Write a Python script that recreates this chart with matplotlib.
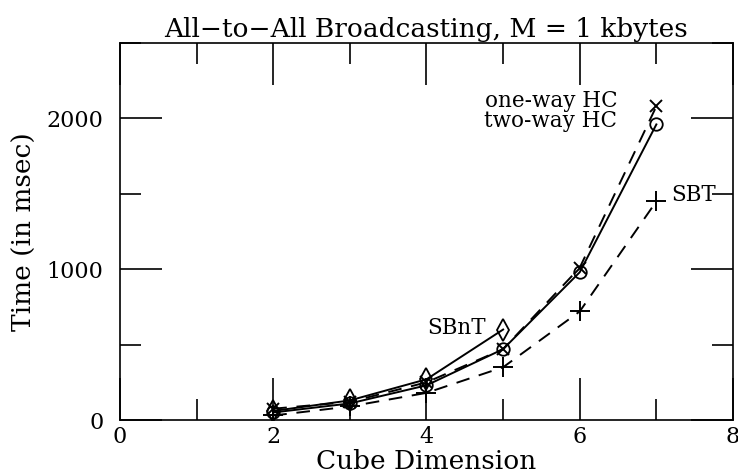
import matplotlib
matplotlib.use("Agg")
import matplotlib.pyplot as plt
from matplotlib.ticker import MultipleLocator

# values
cube_dim = [2, 3, 4, 5, 6, 7]
one_way_hc = [75, 120, 250, 470, 1010, 2080]
two_way_hc = [50, 110, 230, 470, 980, 1960]
sbt = [30, 90, 180, 350, 720, 1450]
sbnt_dim = [2, 3, 4, 5]
sbnt = [60, 130, 270, 600]

plt.rcParams["font.family"] = "DejaVu Serif"

fig = plt.figure(figsize=(7.38, 4.76), dpi=100)
ax = fig.add_axes([0.1626, 0.1176, 0.8306, 0.7921])

dash = (0, (7, 5))
ax.plot(cube_dim, one_way_hc, color="black", lw=1.4, ls=dash,
        marker="x", ms=9, mew=1.4)
ax.plot(cube_dim, two_way_hc, color="black", lw=1.4, ls="-",
        marker="o", ms=9, mfc="none", mew=1.3)
ax.plot(cube_dim, sbt, color="black", lw=1.4, ls=dash,
        marker="+", ms=14, mew=1.4)
ax.plot(sbnt_dim, sbnt, color="black", lw=1.4, ls="-",
        marker="d", ms=11, mfc="none", mew=1.3)

ax.text(6.49, 2118, "one-way HC", ha="right", va="center", fontsize=15.5)
ax.text(6.49, 1985, "two-way HC", ha="right", va="center", fontsize=15.5)
ax.text(7.2, 1493, "SBT", ha="left", va="center", fontsize=15.5)
ax.text(4.77, 613, "SBnT", ha="right", va="center", fontsize=15.5)

ax.set_xlim(0, 8)
ax.set_ylim(0, 2500)
ax.xaxis.set_major_locator(MultipleLocator(2))
ax.xaxis.set_minor_locator(MultipleLocator(1))
ax.yaxis.set_major_locator(MultipleLocator(1000))
ax.yaxis.set_minor_locator(MultipleLocator(500))
ax.tick_params(which="both", direction="in", top=True, right=True,
               width=1.2, labelsize=16)
ax.tick_params(axis="x", pad=4)
ax.tick_params(axis="y", pad=12)
ax.tick_params(which="major", length=30)
ax.tick_params(which="minor", length=15)
for s in ax.spines.values():
    s.set_linewidth(1.2)

ax.set_xlabel("Cube Dimension", fontsize=19, labelpad=1)
ax.set_ylabel("Time (in msec)", fontsize=19)
ax.yaxis.set_label_coords(-0.135, 0.5)
ax.set_title("All\u2212to\u2212All Broadcasting, M = 1 kbytes", fontsize=19, pad=4)

fig.savefig("out.png", dpi=100)
